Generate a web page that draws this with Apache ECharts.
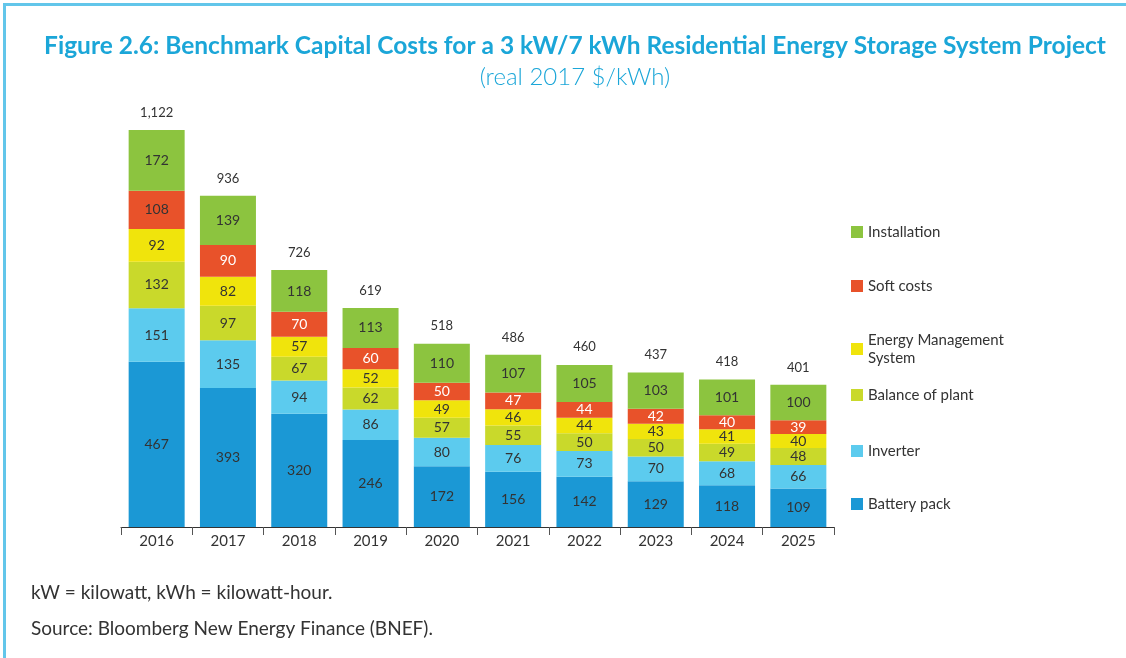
<!DOCTYPE html>
<html>
<head>
<meta charset="utf-8">
<title>Benchmark Capital Costs</title>
<script src="https://cdn.jsdelivr.net/npm/echarts@6/dist/echarts.min.js"></script>
<style>
  html, body { margin: 0; padding: 0; background: #fff; }
  #chart { width: 1126px; height: 658px; }
</style>
</head>
<body>
<div id="chart"></div>
<script>
// data
var years = ['2016', '2017', '2018', '2019', '2020', '2021', '2022', '2023', '2024', '2025'];
var batteryPack = [467, 393, 320, 246, 172, 156, 142, 129, 118, 109];
var inverter = [151, 135, 94, 86, 80, 76, 73, 70, 68, 66];
var balanceOfPlant = [132, 97, 67, 62, 57, 55, 50, 50, 49, 48];
var energyMgmt = [92, 82, 57, 52, 49, 46, 44, 43, 41, 40];
var softCosts = [108, 90, 70, 60, 50, 47, 44, 42, 40, 39];
var installation = [172, 139, 118, 113, 110, 107, 105, 103, 101, 100];
var totals = [1122, 936, 726, 619, 518, 486, 460, 437, 418, 401];

var font = 'Lato';
var dark = '#333333';

function seg(name, values, color, labelColor) {
    return {
        name: name,
        type: 'bar',
        stack: 'cost',
        barWidth: 56,
        data: values,
        itemStyle: { color: color },
        label: {
            show: true,
            position: 'inside',
            fontFamily: font,
            fontSize: 14,
            color: labelColor || dark
        }
    };
}

var soft = seg('Soft costs', softCosts.map(function (v, i) {
    // first bar has a dark label, the rest white
    return { value: v, label: { color: i === 0 ? dark : '#ffffff' } };
}), '#e8522a');

var myChart = echarts.init(document.getElementById('chart'));
myChart.setOption({
    animation: false,
    title: [{
        text: 'Figure 2.6: Benchmark Capital Costs for a 3 kW/7 kWh Residential Energy Storage System Project',
        left: 570,
        textAlign: 'center',
        top: 29,
        textStyle: { fontFamily: font, fontSize: 24.5, fontWeight: 'bold', color: '#1ba6d8' }
    }, {
        text: '(real 2017 $/kWh)',
        left: 570,
        textAlign: 'center',
        top: 60,
        textStyle: { fontFamily: font, fontSize: 24, fontWeight: 300, color: '#1ba6d8' }
    }],
    grid: { left: 121, right: 292, top: 130, bottom: 131 },
    xAxis: {
        type: 'category',
        data: years,
        axisLine: { lineStyle: { color: dark, width: 1 } },
        axisTick: { show: true, length: 8, lineStyle: { color: '#555' } },
        axisLabel: { fontFamily: font, fontSize: 15, color: dark, margin: 7 }
    },
    yAxis: { type: 'value', min: 0, max: 1122, show: false },
    legend: [
        { name: 'Installation', top: 218 },
        { name: 'Soft costs', top: 272 },
        { name: 'Energy Management System', top: 317, multi: true },
        { name: 'Balance of plant', top: 381 },
        { name: 'Inverter', top: 437 },
        { name: 'Battery pack', top: 490 }
    ].map(function (l) {
        return {
            data: [l.name],
            left: 846,
            top: l.top,
            icon: 'rect',
            itemWidth: 12,
            itemHeight: 12,
            selectedMode: false,
            formatter: l.multi ? function () { return 'Energy Management\nSystem'; } : '{name}',
            textStyle: {
                fontFamily: font, fontSize: 15, color: dark, lineHeight: 18,
                padding: l.multi ? [18, 0, 0, 0] : 0
            }
        };
    }),
    graphic: [
        { type: 'rect', shape: { x: 3, y: 3, width: 1123, height: 3 }, style: { fill: '#62c6ea' } },
        { type: 'rect', shape: { x: 3, y: 3, width: 3, height: 655 }, style: { fill: '#62c6ea' } },
        { type: 'text', left: 31, top: 583, style: { text: 'kW = kilowatt, kWh = kilowatt-hour.', font: '19px Lato', fill: dark } },
        { type: 'text', left: 31, top: 619, style: { text: 'Source: Bloomberg New Energy Finance (BNEF).', font: '19px Lato', fill: dark } }
    ],
    series: [
        seg('Battery pack', batteryPack, '#1b98d5'),
        seg('Inverter', inverter, '#5ccbee'),
        seg('Balance of plant', balanceOfPlant, '#c9d92b'),
        seg('Energy Management System', energyMgmt, '#f0e40c'),
        soft,
        seg('Installation', installation, '#8cc43f'),
        {
            name: 'Total',
            type: 'line',
            data: totals,
            symbol: 'circle',
            symbolSize: 2,
            showSymbol: true,
            itemStyle: { color: 'transparent' },
            lineStyle: { width: 0, color: 'transparent' },
            silent: true,
            z: 10,
            label: {
                show: true,
                position: 'top',
                distance: 10,
                fontFamily: font,
                fontSize: 13,
                color: dark,
                opacity: 1,
                formatter: function (p) { return p.value.toLocaleString('en-US'); }
            }
        }
    ]
});
</script>
</body>
</html>
